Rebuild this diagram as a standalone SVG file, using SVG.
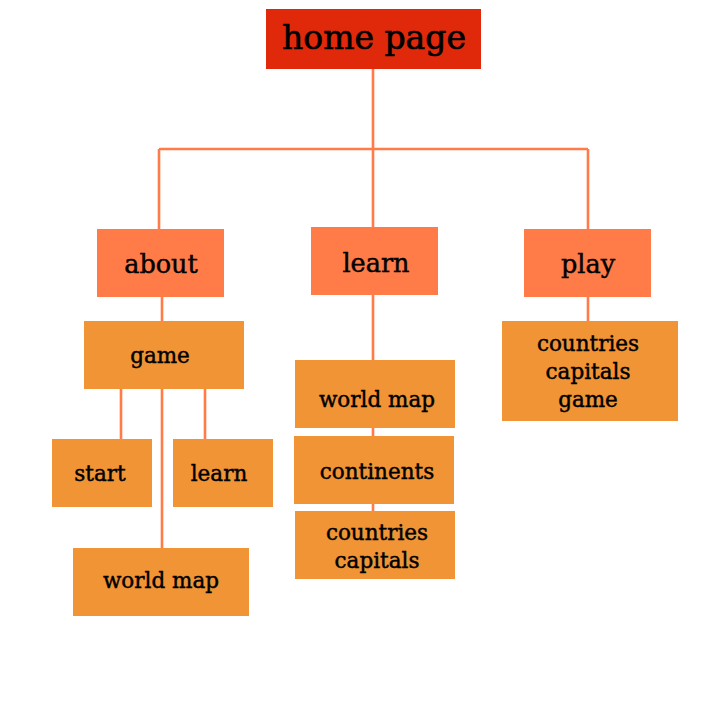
<svg xmlns="http://www.w3.org/2000/svg" width="720" height="720" viewBox="0 0 720 720">
  <style>
    .root { fill: #e0290a; }
    .l1 { fill: #ff7b47; }
    .l2 { fill: #f09435; }
    text { font-family: "DejaVu Serif", "Liberation Serif", serif; fill: #000; stroke: #000; stroke-width: 0.45; text-anchor: middle; }
    .t0 { font-size: 33px; stroke-width: 0.7; }
    .t1 { font-size: 25.5px; }
    .t2 { font-size: 21.5px; }
    .links path { fill: none; stroke: #ff7b47; stroke-width: 2.6; }
  </style>
  <rect width="720" height="720" fill="#ffffff"/>

  <g class="links">
    <path d="M373 69 V149 M159 149 H588 M159 149 V229 M373 149 V227 M588 149 V229"/>
    <path d="M162 297 V321"/>
    <path d="M121 389 V439 M205 389 V439 M162 389 V548"/>
    <path d="M373 295 V360 M373 428 V436 M373 504 V511"/>
    <path d="M588 297 V321"/>
  </g>

  <g id="home">
    <rect class="root" x="266" y="9" width="215" height="60"/>
    <text class="t0" x="374" y="49">home page</text>
  </g>

  <g id="about">
    <rect class="l1" x="97" y="229" width="127" height="68"/>
    <text class="t1" x="161" y="273">about</text>
  </g>
  <g id="learn">
    <rect class="l1" x="311" y="227" width="127" height="68"/>
    <text class="t1" x="376" y="272">learn</text>
  </g>
  <g id="play">
    <rect class="l1" x="524" y="229" width="127" height="68"/>
    <text class="t1" x="588" y="273">play</text>
  </g>

  <g id="about-game">
    <rect class="l2" x="84" y="321" width="160" height="68"/>
    <text class="t2" x="160" y="363">game</text>
  </g>
  <g id="about-game-start">
    <rect class="l2" x="52" y="439" width="100" height="68"/>
    <text class="t2" x="100" y="481">start</text>
  </g>
  <g id="about-game-learn">
    <rect class="l2" x="173" y="439" width="100" height="68"/>
    <text class="t2" x="219" y="481">learn</text>
  </g>
  <g id="about-game-worldmap">
    <rect class="l2" x="73" y="548" width="176" height="68"/>
    <text class="t2" x="161" y="588">world map</text>
  </g>

  <g id="learn-worldmap">
    <rect class="l2" x="295" y="360" width="160" height="68"/>
    <text class="t2" x="377" y="407">world map</text>
  </g>
  <g id="learn-continents">
    <rect class="l2" x="294" y="436" width="160" height="68"/>
    <text class="t2" x="377" y="479">continents</text>
  </g>
  <g id="learn-countries">
    <rect class="l2" x="295" y="511" width="160" height="68"/>
    <text class="t2" x="377" y="540">countries</text>
    <text class="t2" x="377" y="568">capitals</text>
  </g>

  <g id="play-game">
    <rect class="l2" x="502" y="321" width="176" height="100"/>
    <text class="t2" x="588" y="351">countries</text>
    <text class="t2" x="588" y="379">capitals</text>
    <text class="t2" x="588" y="407">game</text>
  </g>
</svg>
